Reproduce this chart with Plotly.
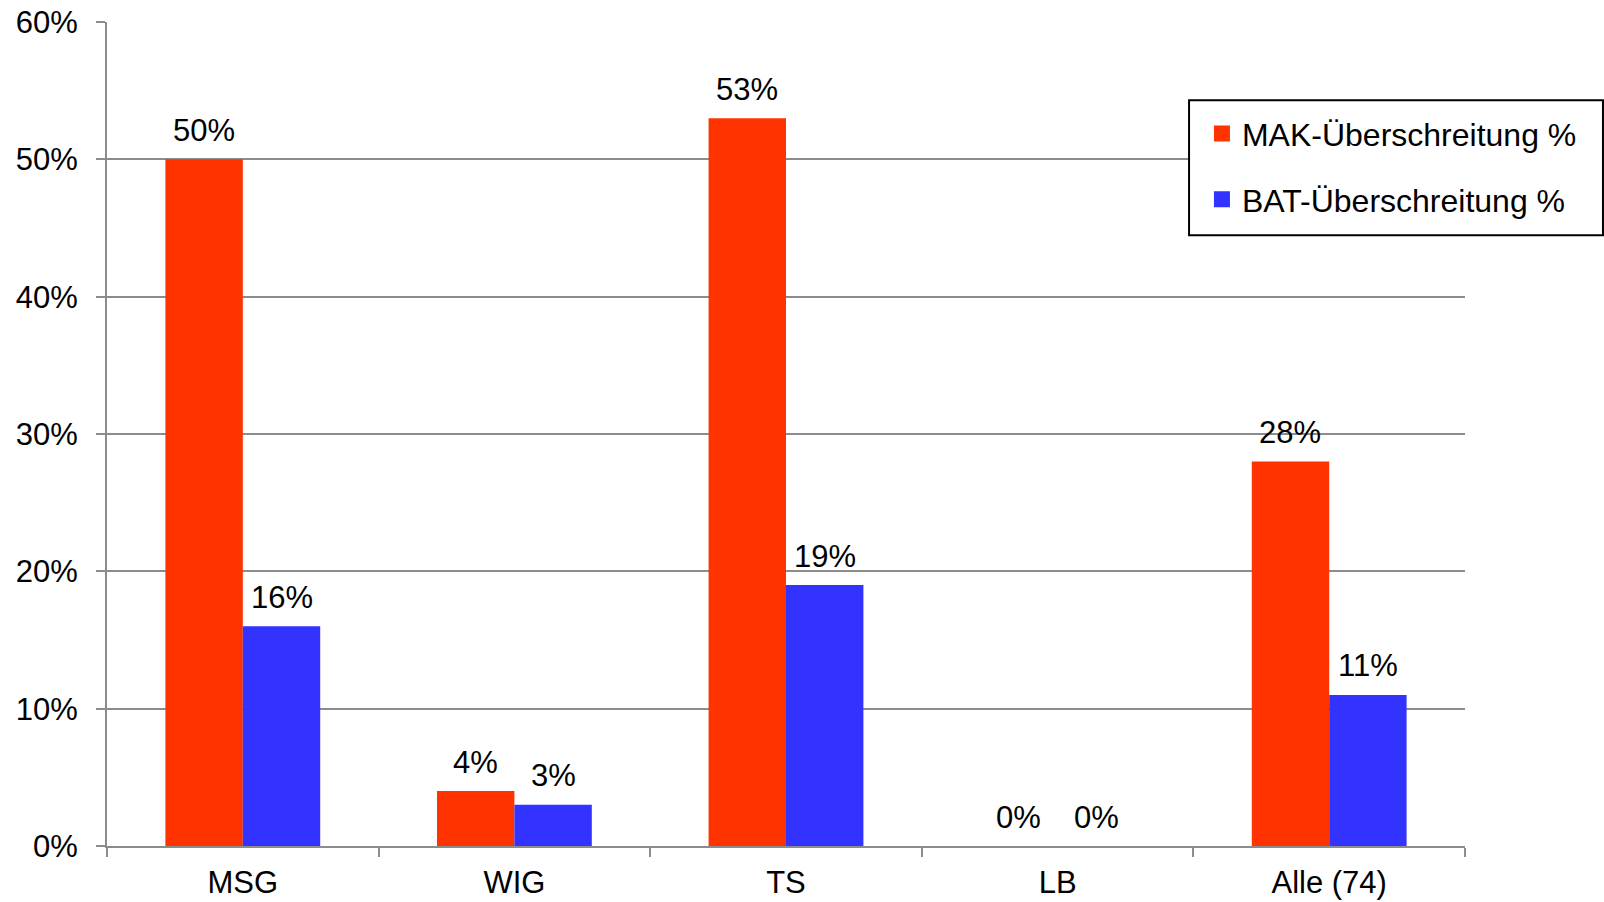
import plotly.graph_objects as go

categories = ["MSG", "WIG", "TS", "LB", "Alle (74)"]
mak_values = [50, 4, 53, 0, 28]
bat_values = [16, 3, 19, 0, 11]
series_names = ["MAK-Überschreitung %", "BAT-Überschreitung %"]
series_colors = ["#FF3300", "#3333FF"]
y_ticks = [0, 10, 20, 30, 40, 50, 60]
y_tick_labels = [f"{v}%" for v in y_ticks]

FONT = "Arial, Liberation Sans, sans-serif"
FS = 31
GRID = "#8C8C8C"

fig = go.Figure()
for i, (name, vals, col) in enumerate(zip(series_names, [mak_values, bat_values], series_colors)):
    fig.add_trace(go.Bar(
        x=categories, y=vals, name=name, marker_color=col,
        marker_line_width=0, showlegend=False,
    ))
    # legend entry with a larger square swatch
    fig.add_trace(go.Scatter(
        x=[None], y=[None], mode="markers", name=name,
        marker=dict(symbol="square", size=16, color=col),
        legendgroup=f"g{i}", showlegend=True,
    ))

# value labels above bars
bar_px = 77.5
for i, vals in enumerate([mak_values, bat_values]):
    shift = (-1 if i == 0 else 1) * bar_px / 2
    for c, v in zip(categories, vals):
        fig.add_annotation(
            x=c, y=v, text=f"{v}%", showarrow=False,
            xshift=shift, yshift=29, yanchor="middle",
            font=dict(family=FONT, size=FS, color="black"),
        )

# legend frame
fig.add_shape(
    type="rect", xref="paper", yref="paper",
    x0=0.7968, x1=1.1016, y0=0.7411, y1=0.905,
    line=dict(color="black", width=2), fillcolor="white", layer="above",
)

fig.update_layout(
    width=1604, height=902,
    margin=dict(l=107, r=139, t=22, b=56, autoexpand=False),
    paper_bgcolor="white", plot_bgcolor="white",
    barmode="group", bargap=0.43, bargroupgap=0,
    font=dict(family=FONT, size=FS, color="black"),
    showlegend=True,
    legend=dict(
        x=0.8063, y=0.8977, xanchor="left", yanchor="top",
        borderwidth=0, bgcolor="rgba(0,0,0,0)",
        traceorder="grouped", tracegroupgap=21,
        font=dict(family=FONT, size=32, color="black"),
        itemwidth=30, itemsizing="trace",
    ),
)
fig.update_xaxes(
    showline=True, linecolor=GRID, linewidth=2,
    ticks="outside", ticklen=9, tickcolor=GRID, tickwidth=2,
    tickson="boundaries", showgrid=False, automargin=False,
    ticklabelstandoff=8,
    tickfont=dict(family=FONT, size=FS, color="black"),
)
fig.update_yaxes(
    range=[0, 60], tickvals=y_ticks, ticktext=y_tick_labels,
    showline=True, linecolor=GRID, linewidth=2,
    ticks="outside", ticklen=9, tickcolor=GRID, tickwidth=2,
    showgrid=True, gridcolor=GRID, gridwidth=2, automargin=False,
    zeroline=False, ticklabelstandoff=12,
    tickfont=dict(family=FONT, size=FS, color="black"),
)

fig.write_html("out.html")
